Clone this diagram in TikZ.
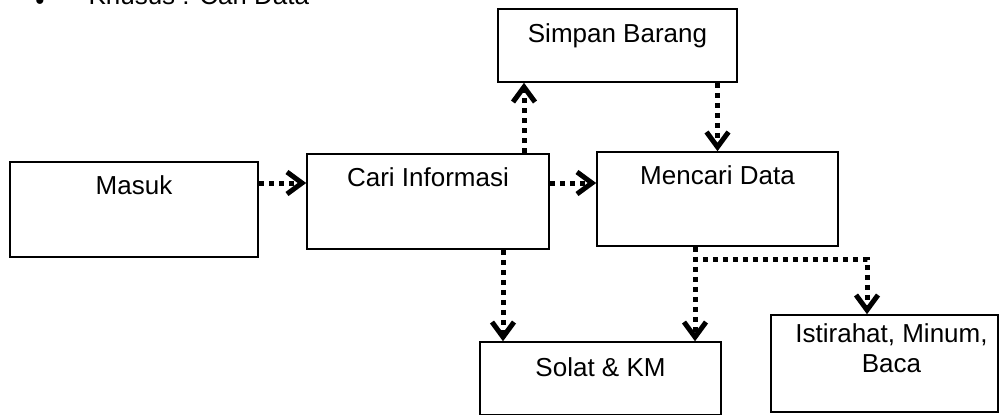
\documentclass[tikz,border=0pt]{standalone}
\usepackage{fontspec}
\setmainfont{Liberation Sans}
\usetikzlibrary{arrows.meta,positioning,calc}
\tikzset{
  box/.style={draw,line width=1.6pt,inner sep=0pt},
  lbl/.style={font=\fontsize{26}{30}\selectfont},
  flow/.style={line width=5pt,dash pattern=on 5pt off 5pt,
    -{Straight Barb[length=15pt,width=22pt,line width=5pt]}}
}

\begin{document}
\begin{tikzpicture}[x=1pt,y=-1pt]
\useasboundingbox (0,0) rectangle (1003,416);
% heading, cut by the page edge
\node[lbl,anchor=base] (bullet) at (40,9.5) {•};
\node[lbl,anchor=base west] (head) at (85,4.5) {Khusus : Cari Data};
% boxes
\node[box,minimum width=248,minimum height=95,
  label={[lbl,anchor=base,yshift=-33pt]north:Masuk}] (masuk) at (134,209.5) {};
\node[box,minimum width=242,minimum height=95,
  label={[lbl,anchor=base,yshift=-33pt]north:Cari Informasi}] (cari) at (428,201.5) {};
\node[box,minimum width=241,minimum height=94,
  label={[lbl,anchor=base,yshift=-33pt]north:Mencari Data}] (mencari) at (717.5,199) {};
\node[box,minimum width=239,minimum height=73,
  label={[lbl,anchor=base,yshift=-34pt]north:Simpan Barang}] (simpan) at (617.5,45.5) {};
\node[box,minimum width=241,minimum height=72.5,
  label={[lbl,anchor=base,yshift=-35pt]north:Solat \& KM}] (solat) at (600.5,378.3) {};
\node[box,minimum width=227,minimum height=97,
  label={[lbl,align=center,anchor=center,xshift=7pt,yshift=-34pt]north:{Istirahat, Minum,\\Baca}}] (istirahat) at (884.5,363.5) {};
% connectors
\coordinate (row) at (0,183);
\coordinate (up) at (524,0);
\coordinate (down) at (503,0);
\coordinate (split) at (695,259);
\draw[flow] (masuk.east |- row) -- (cari.west |- row);
\draw[flow] (cari.east |- row) -- (mencari.west |- row);
\draw[flow] (cari.north -| up) -- (simpan.south -| up);
\draw[flow] (simpan.south -| mencari.north) -- (mencari.north);
\draw[flow] (cari.south -| down) -- (solat.north -| down);
\draw[flow] (mencari.south -| split) -- (solat.north -| split);
\draw[flow] (mencari.south -| split) -- (split) -| ([xshift=-17.5pt]istirahat.north);
\end{tikzpicture}
\end{document}
